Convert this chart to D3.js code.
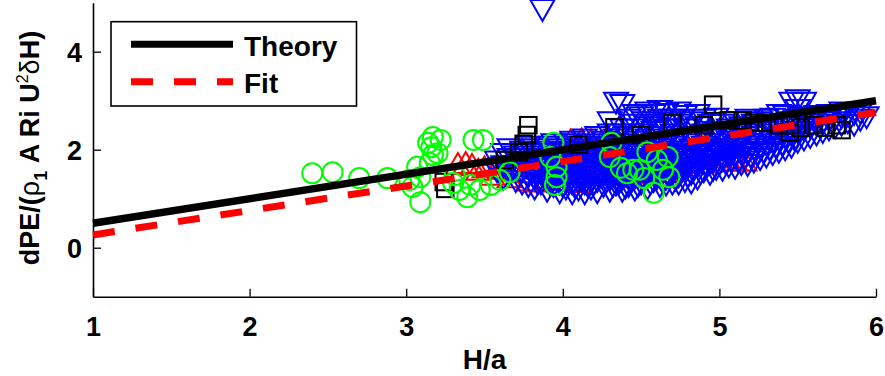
<!DOCTYPE html>
<html>
<head>
<meta charset="utf-8">
<script src="https://cdn.jsdelivr.net/npm/d3@7"></script>
<style>
html,body{margin:0;padding:0;background:#fff;}
svg text{font-family:"Liberation Sans",Arial,Helvetica,sans-serif;font-weight:bold;}
</style>
</head>
<body>
<svg id="chart" width="885" height="376"></svg>
<script>
// ---- data ----
const xTicks = [1, 2, 3, 4, 5, 6];
const yTicks = [0, 2, 4];
const xLabel = "H/a";
const legendLabels = ["Theory", "Fit"];

const theoryX = [1, 6];
const theoryY = [0.5, 3.0];
const fitX = [1, 6];
const fitY = [0.26, 2.76];

// black squares
const squares = [
  [3.24,1.34],[3.25,1.2],[3.78,2.5],[3.77,2.3],[3.75,2.12],[3.72,1.95],[3.63,1.79],
  [4.33,2.46],[4.96,2.92],[5.06,2.6],[5.15,2.6],[5.22,2.55],[5.3,2.55],[5.38,2.5],
  [5.45,2.35],[5.45,2.5],[5.52,2.45],[5.6,2.5],[5.68,2.45],[5.75,2.5],[5.78,2.4],
  [4.1,2.1],[4.5,2.3],[4.7,2.55],[4.9,2.5]
];

// red up-triangles
const redTri = [
  [3.33,1.72],[3.38,1.74],[3.42,1.7],[3.46,1.6],[3.5,1.65],[3.55,1.5],[3.6,1.62],
  [3.66,1.45],[3.72,1.55],[3.78,1.38],[3.84,1.36],[3.9,1.4],[3.95,1.5],[4.0,1.6],
  [4.05,1.38],[4.1,1.35],[4.14,1.5],[4.05,2.2],[4.12,2.22],[4.18,2.2],[4.25,2.18],
  [4.3,2.2],[4.35,1.5],[4.4,1.6],[4.45,1.45],[4.5,1.7],[4.55,1.6],[4.6,1.8],
  [4.65,1.55],[4.7,1.9],[4.75,1.7],[4.8,1.85],[4.85,1.85],[4.9,1.75],[4.95,2.0],
  [5.0,1.9],[5.05,1.85],[5.1,1.79],[5.16,1.79],[4.2,1.8],[4.3,1.9],[3.8,1.7],
  [3.95,1.9],[4.45,2.0],[4.6,2.1]
];

// blue down-triangles
const blueTri = [
  [3.87,4.84],
  [3.58,1.55],[3.58,1.75],
  [3.62,1.4],[3.62,1.65],[3.62,1.9],
  [3.66,1.5],[3.66,1.8],[3.66,2.0],
  [3.70,1.35],[3.70,1.6],[3.70,1.85],
  [3.74,1.3],[3.74,1.55],[3.74,1.75],[3.74,1.95],
  [3.78,1.25],[3.78,1.45],[3.78,1.7],[3.78,1.9],[3.78,2.05],
  [3.82,1.2],[3.82,1.4],[3.82,1.6],[3.82,1.85],[3.82,2.0],
  [3.86,1.3],[3.86,1.5],[3.86,1.75],[3.86,1.95],
  [3.90,1.15],[3.90,1.35],[3.90,1.6],[3.90,1.8],[3.90,2.05],
  [3.94,1.25],[3.94,1.45],[3.94,1.7],[3.94,1.9],[3.94,2.1],
  [3.98,1.12],[3.98,1.3],[3.98,1.55],[3.98,1.8],[3.98,2.0],
  [4.02,1.2],[4.02,1.4],[4.02,1.65],[4.02,1.85],[4.02,2.1],
  [4.06,1.1],[4.06,1.3],[4.06,1.5],[4.06,1.75],[4.06,1.95],[4.06,2.15],
  [4.10,1.18],[4.10,1.42],[4.10,1.6],[4.10,1.88],[4.10,2.05],
  [4.14,1.1],[4.14,1.3],[4.14,1.55],[4.14,1.78],[4.14,2.0],[4.14,2.2],
  [4.18,1.2],[4.18,1.45],[4.18,1.65],[4.18,1.9],[4.18,2.1],
  [4.22,1.12],[4.22,1.35],[4.22,1.58],[4.22,1.8],[4.22,2.05],[4.22,2.25],
  [4.26,1.25],[4.26,1.48],[4.26,1.7],[4.26,1.95],[4.26,2.15],
  [4.30,1.15],[4.30,1.38],[4.30,1.6],[4.30,1.85],[4.30,2.05],[4.30,2.3],[4.30,2.55],
  [4.34,1.28],[4.34,1.5],[4.34,1.75],[4.34,2.0],[4.34,2.2],[4.34,2.95],
  [4.38,1.15],[4.38,1.4],[4.38,1.65],[4.38,1.9],[4.38,2.1],[4.38,2.4],[4.38,2.9],
  [4.42,1.25],[4.42,1.52],[4.42,1.8],[4.42,2.02],[4.42,2.25],[4.42,2.6],
  [4.46,1.18],[4.46,1.42],[4.46,1.68],[4.46,1.92],[4.46,2.15],[4.46,2.5],[4.46,2.7],
  [4.50,1.3],[4.50,1.55],[4.50,1.8],[4.50,2.05],[4.50,2.3],[4.50,2.65],
  [4.54,1.2],[4.54,1.45],[4.54,1.7],[4.54,1.95],[4.54,2.2],[4.54,2.45],[4.54,2.75],
  [4.58,1.35],[4.58,1.6],[4.58,1.85],[4.58,2.1],[4.58,2.35],[4.58,2.7],
  [4.62,1.25],[4.62,1.5],[4.62,1.75],[4.62,2.0],[4.62,2.25],[4.62,2.6],[4.62,2.78],
  [4.66,1.28],[4.66,1.4],[4.66,1.65],[4.66,1.9],[4.66,2.15],[4.66,2.4],[4.66,2.72],
  [4.70,1.3],[4.70,1.55],[4.70,1.8],[4.70,2.05],[4.70,2.3],[4.70,2.6],
  [4.74,1.3],[4.74,1.45],[4.74,1.7],[4.74,1.95],[4.74,2.2],[4.74,2.5],[4.74,2.75],
  [4.78,1.35],[4.78,1.6],[4.78,1.85],[4.78,2.1],[4.78,2.4],[4.78,2.68],
  [4.82,1.32],[4.82,1.5],[4.82,1.75],[4.82,2.0],[4.82,2.25],[4.82,2.55],
  [4.86,1.4],[4.86,1.65],[4.86,1.9],[4.86,2.15],[4.86,2.45],[4.86,2.7],
  [4.90,1.55],[4.90,1.8],[4.90,2.05],[4.90,2.3],[4.90,2.6],
  [4.94,1.5],[4.94,1.7],[4.94,1.95],[4.94,2.2],[4.94,2.5],
  [4.98,1.6],[4.98,1.85],[4.98,2.1],[4.98,2.35],[4.98,2.62],
  [5.02,1.58],[5.02,1.78],[5.02,2.0],[5.02,2.25],[5.02,2.5],
  [5.06,1.65],[5.06,1.9],[5.06,2.15],[5.06,2.4],
  [5.10,1.62],[5.10,1.85],[5.10,2.05],[5.10,2.3],[5.10,2.55],
  [5.14,1.7],[5.14,1.95],[5.14,2.2],[5.14,2.45],
  [5.18,1.68],[5.18,1.9],[5.18,2.1],[5.18,2.35],[5.18,2.6],
  [5.22,1.75],[5.22,2.0],[5.22,2.25],[5.22,2.5],
  [5.26,1.8],[5.26,2.05],[5.26,2.3],[5.26,2.55],
  [5.30,1.85],[5.30,2.1],[5.30,2.35],[5.30,2.6],
  [5.34,1.9],[5.34,2.15],[5.34,2.4],[5.34,2.62],
  [5.38,1.95],[5.38,2.2],[5.38,2.45],[5.38,2.7],
  [5.42,2.0],[5.42,2.25],[5.42,2.5],[5.42,2.68],
  [5.46,2.05],[5.46,2.3],[5.46,2.55],[5.46,2.95],
  [5.50,2.15],[5.50,2.35],[5.50,2.6],[5.50,2.8],[5.50,3.0],
  [5.54,2.2],[5.54,2.4],[5.54,2.65],[5.54,2.95],
  [5.58,2.25],[5.58,2.45],[5.58,2.62],
  [5.62,2.3],[5.62,2.5],[5.62,2.68],
  [5.66,2.35],[5.66,2.55],
  [5.70,2.4],[5.70,2.6],[5.70,2.7],
  [5.74,2.45],[5.74,2.62],
  [5.78,2.5],[5.78,2.65],[5.78,2.75],
  [5.82,2.55],[5.82,2.7],
  [5.86,2.5],[5.86,2.72],
  [5.90,2.6],[5.90,2.75],
  [5.94,2.65],
  [3.80,1.5],[3.80,1.8],[3.84,1.3],[3.84,1.68],[3.88,1.45],[3.88,1.9],[3.92,1.28],
  [3.92,1.52],[3.96,1.38],[3.96,1.62],[4.00,1.25],[4.00,1.5],[4.00,1.95],[4.04,1.32],
  [4.04,1.58],[4.08,1.22],[4.08,1.68],[4.08,1.85],[4.12,1.36],[4.12,1.52],[4.16,1.25],
  [4.16,1.6],[4.16,1.95],[4.20,1.3],[4.20,1.52],[4.24,1.45],[4.24,1.9],[4.28,1.35],
  [4.28,1.6],[4.32,1.25],[4.32,1.7],[4.32,1.95],[4.36,1.32],[4.36,1.55],[4.36,2.3],
  [4.40,1.22],[4.40,1.48],[4.40,1.72],[4.44,1.35],[4.44,1.6],[4.44,2.4],[4.48,1.25],
  [4.48,1.5],[4.48,1.75],[4.52,1.38],[4.52,1.62],[4.52,2.55],[4.56,1.3],[4.56,1.52],
  [4.56,1.78],[4.60,1.4],[4.60,1.65],[4.60,2.5],[4.64,1.32],[4.64,1.55],[4.64,1.8],
  [4.68,1.45],[4.68,1.7],[4.68,2.55],[4.72,1.38],[4.72,1.62],[4.72,1.88],[4.76,1.55],
  [4.76,1.8],[4.76,2.6],[4.80,1.45],[4.80,1.7],[4.84,1.6],[4.84,1.85],[4.88,1.52],
  [4.88,1.78],[4.92,1.65],[4.92,1.9],[4.96,1.58],[4.96,1.75],[5.00,1.7],[5.00,1.95],
  [5.04,1.72],[5.08,1.78],[5.08,2.0],[5.12,1.75],[5.16,1.82],[5.20,1.85],[5.24,1.9],
  [5.28,1.95],[5.32,2.0],[5.36,2.05],[5.40,2.1],[5.44,2.15],[5.48,2.2]
];

// green circles
const greenCirc = [
  [2.40,1.52],[2.53,1.54],[2.70,1.42],[2.88,1.42],[3.02,1.38],[3.07,1.65],[3.04,1.24],
  [3.09,0.93],[3.09,1.44],[3.17,2.26],[3.16,2.05],[3.17,1.89],[3.20,1.93],[3.15,1.73],
  [3.14,2.14],[3.22,2.2],[3.30,1.32],[3.34,1.18],[3.39,1.03],[3.31,1.48],[3.41,1.28],
  [3.47,1.18],[3.54,1.28],[3.60,1.38],[3.43,2.2],[3.49,2.2],[3.66,1.54],[3.94,2.14],
  [3.92,1.85],[3.96,1.65],[3.96,1.44],[3.95,1.28],[4.31,2.14],[4.30,1.85],[4.37,1.63],
  [4.41,1.52],[4.45,1.59],[4.49,1.59],[4.54,1.95],[4.60,1.79],[4.64,1.59],[4.67,1.85],
  [4.68,1.44],[4.58,1.12],[4.52,1.42]
];

// ---- layout ----
const svg = d3.select("#chart");
const x = d3.scaleLinear().domain([1, 6]).range([93, 876]);
const y = d3.scaleLinear().domain([-1, 5]).range([296.7, 2.7]);

// axes
const gx = svg.append("g").attr("transform", `translate(0,${y(-1)})`)
  .call(d3.axisBottom(x).tickValues(xTicks).tickFormat(d3.format("d")).tickSizeInner(-8).tickSizeOuter(0).tickPadding(20));
const gy = svg.append("g").attr("transform", `translate(${x(1)},0)`)
  .call(d3.axisLeft(y).tickValues(yTicks).tickFormat(d3.format("d")).tickSizeInner(-8).tickSizeOuter(0).tickPadding(11));
[gx, gy].forEach(g => {
  g.select(".domain").attr("stroke", "#000").attr("stroke-width", 1.6);
  g.selectAll(".tick line").attr("stroke", "#000").attr("stroke-width", 1.3);
  g.selectAll(".tick text").attr("fill", "#000").attr("font-size", 27)
    .attr("font-family", "'Liberation Sans',Arial,sans-serif").attr("font-weight", "bold");
});
gy.selectAll(".tick text").attr("dy", "0.36em");

// markers
const sqS = 16.5, triW = 24, triH = 21, cR = 10;
const upTri = `M${-triW/2},${triH/2}L${triW/2},${triH/2}L0,${-triH/2}Z`;
const downTri = `M${-triW/2},${-triH/2}L${triW/2},${-triH/2}L0,${triH/2}Z`;

svg.append("g").selectAll("path").data(redTri).join("path")
  .attr("d", upTri).attr("transform", d => `translate(${x(d[0])},${y(d[1])})`)
  .attr("fill", "none").attr("stroke", "#ff0000").attr("stroke-width", 2);

svg.append("g").selectAll("path").data(blueTri).join("path")
  .attr("d", downTri).attr("transform", d => `translate(${x(d[0])},${y(d[1])})`)
  .attr("fill", "none").attr("stroke", "#0000ff").attr("stroke-width", 2);

svg.append("g").selectAll("rect").data(squares).join("rect")
  .attr("x", d => x(d[0]) - sqS/2).attr("y", d => y(d[1]) - sqS/2)
  .attr("width", sqS).attr("height", sqS)
  .attr("fill", "none").attr("stroke", "#000").attr("stroke-width", 2);

svg.append("g").selectAll("circle").data(greenCirc).join("circle")
  .attr("cx", d => x(d[0])).attr("cy", d => y(d[1])).attr("r", cR)
  .attr("fill", "none").attr("stroke", "#00ff00").attr("stroke-width", 2);

// lines
const line = d3.line().x(d => x(d[0])).y(d => y(d[1]));
svg.append("path").datum(theoryX.map((v, i) => [v, theoryY[i]]))
  .attr("d", line).attr("fill", "none").attr("stroke", "#000").attr("stroke-width", 7.5);
svg.append("path").datum(fitX.map((v, i) => [v, fitY[i]]))
  .attr("d", line).attr("fill", "none").attr("stroke", "#ff0000").attr("stroke-width", 7)
  .attr("stroke-dasharray", "22,21");

// legend
const lg = svg.append("g");
lg.append("rect").attr("x", 111).attr("y", 21.7).attr("width", 245.5).attr("height", 84.3)
  .attr("fill", "#fff").attr("stroke", "#000").attr("stroke-width", 1.6);
lg.append("line").attr("x1", 131).attr("x2", 233).attr("y1", 44.3).attr("y2", 44.3)
  .attr("stroke", "#000").attr("stroke-width", 7);
lg.append("line").attr("x1", 131).attr("x2", 233).attr("y1", 81.7).attr("y2", 81.7)
  .attr("stroke", "#ff0000").attr("stroke-width", 7).attr("stroke-dasharray", "22,21");
lg.append("text").attr("x", 244).attr("y", 56).attr("font-size", 28).text(legendLabels[0]);
lg.append("text").attr("x", 244).attr("y", 93).attr("font-size", 28).text(legendLabels[1]);

// axis labels
svg.append("text").attr("x", x(3.5)).attr("y", 369).attr("text-anchor", "middle")
  .attr("font-size", 28).text(xLabel);

const yl = svg.append("text").attr("transform", "translate(39,148) rotate(-90)")
  .attr("text-anchor", "middle").attr("font-size", 27);
yl.append("tspan").text("dPE/(");
yl.append("tspan").attr("font-weight", "normal").text("ρ");
yl.append("tspan").attr("font-size", 18).attr("dy", 8).text("1");
yl.append("tspan").attr("dy", -8).text(" A Ri U");
yl.append("tspan").attr("font-size", 16).attr("font-weight", "normal").attr("dy", -11).text("2");
yl.append("tspan").attr("font-weight", "normal").attr("dy", 11).text("δ");
yl.append("tspan").text("H)");
</script>
</body>
</html>
